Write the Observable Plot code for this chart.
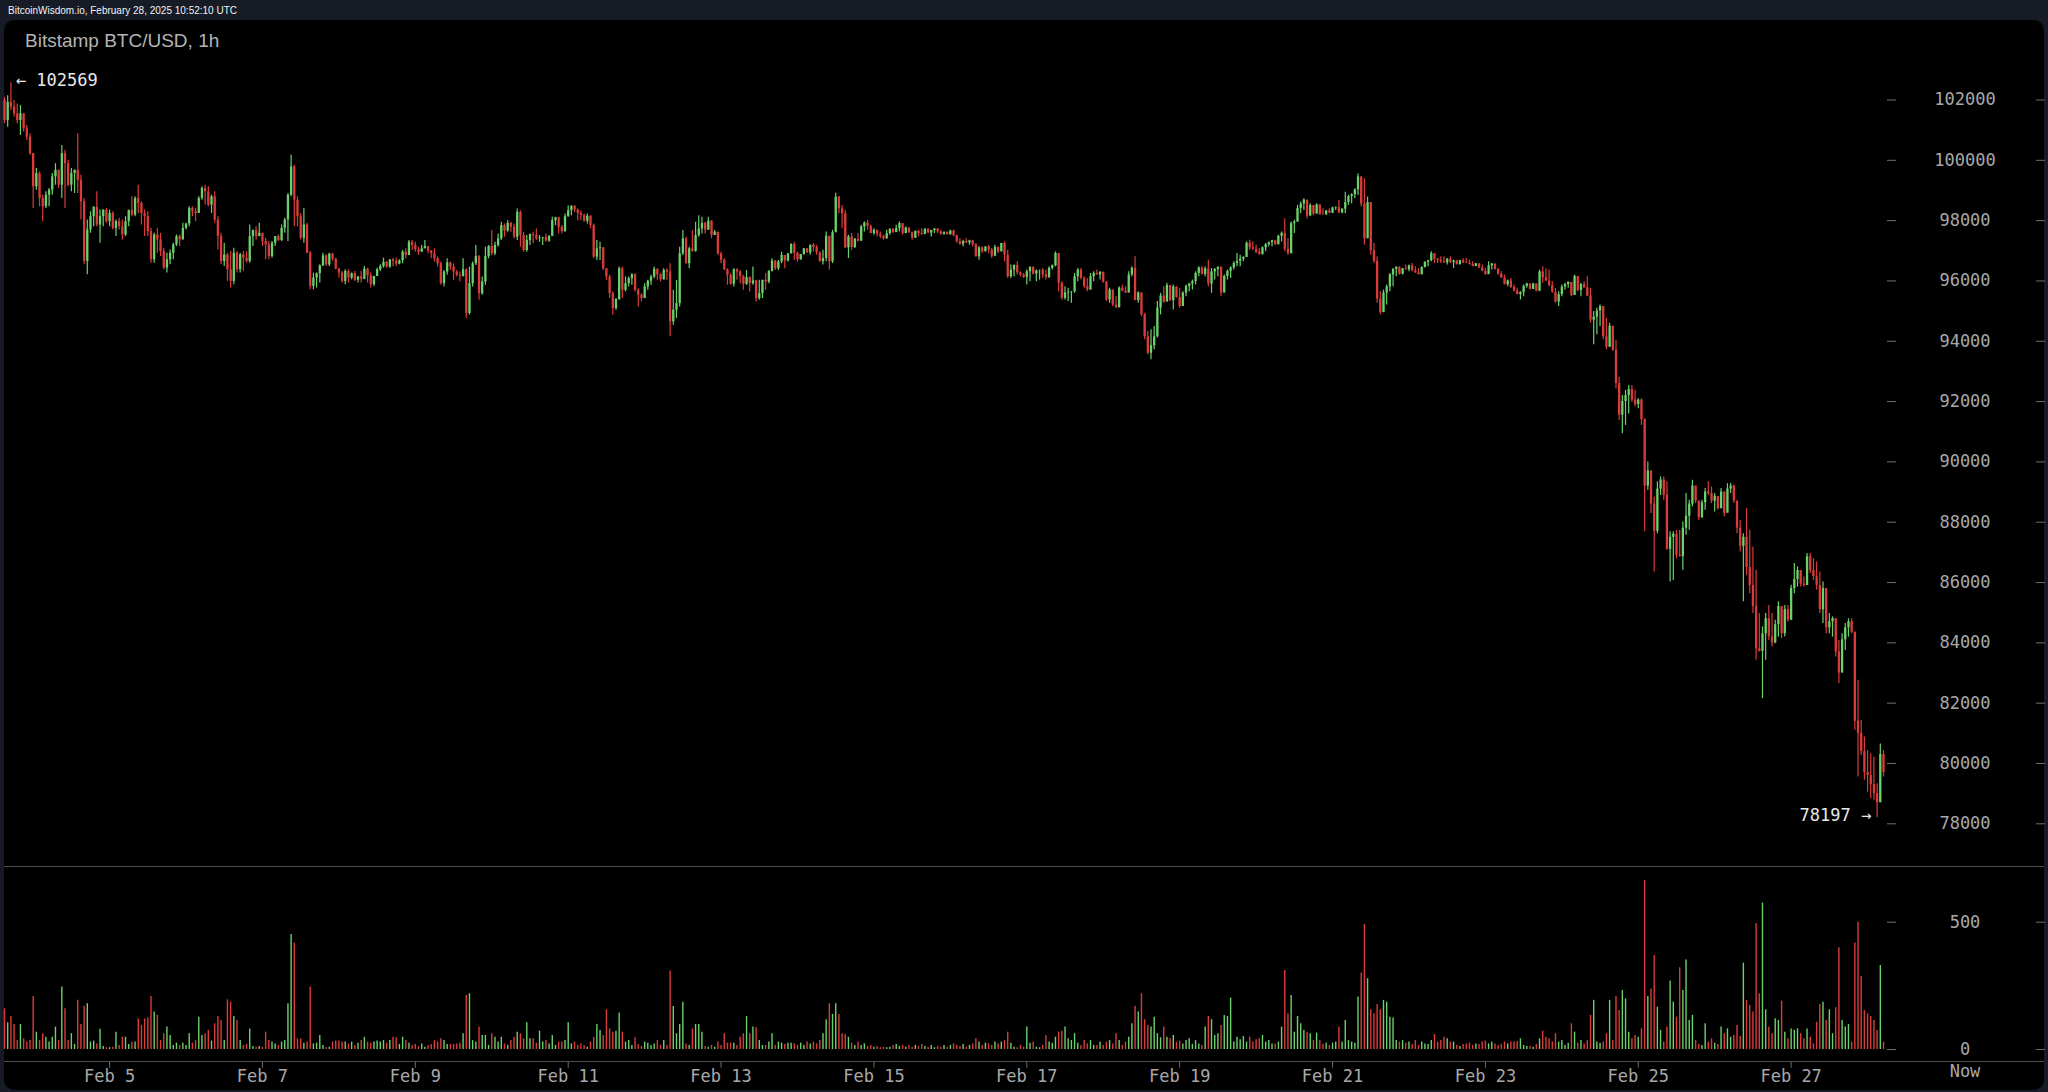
<!DOCTYPE html>
<html><head><meta charset="utf-8">
<script src="https://cdn.jsdelivr.net/npm/d3@7"></script>
<script src="https://cdn.jsdelivr.net/npm/@observablehq/plot@0.6"></script>
<style>
html,body{margin:0;padding:0;background:#161b26;width:2048px;height:1092px;overflow:hidden;}
#header{position:absolute;left:8px;top:5px;font:10px "Liberation Sans",Arial,sans-serif;line-height:12px;color:#f2f2f2;white-space:nowrap;}
#panel{position:absolute;left:4px;top:20px;width:2040px;height:1070px;background:#000;border-radius:10px;}
#title{position:absolute;left:25px;top:31px;font:19px "Liberation Sans",Arial,sans-serif;line-height:19px;color:#b4b4b4;white-space:nowrap;}
.hline{position:absolute;left:4px;width:2040px;height:1px;background:#4d4d4d;}
.chart{position:absolute;left:0;}
#dbg{position:absolute;right:10px;top:4px;font:10px sans-serif;color:red;}
</style></head>
<body>
<div id="header">BitcoinWisdom.io, February 28, 2025 10:52:10 UTC</div>
<div id="panel"></div>
<div id="title">Bitstamp BTC/USD, 1h</div>
<div class="hline" style="top:866px"></div>
<div class="hline" style="top:1061px"></div>
<div id="price" class="chart" style="top:0"></div>
<div id="vol" class="chart" style="top:866px"></div>
<div id="dbg"></div>
<script>
const startHour = "2025-02-03T15:00:00Z";
const firstOpen = 102000;

const high = [
102090,102145,102569,101980,101870,101815,101540,101155,100880,100165,
99725,99615,98845,98955,99065,99560,99890,99670,100495,100330,
100000,99725,99670,100880,99505,98735,98020,98295,98460,98955,
98350,98350,98405,98350,98295,98020,98075,98020,98130,98350,
98790,98790,99175,98625,98350,98295,97745,97580,97745,97580,
97085,96920,97030,97250,97525,97525,97910,97910,98460,98460,
98405,98790,99120,99175,99120,98845,98955,98130,97580,97250,
96920,96975,97085,96975,96920,96975,96975,97855,97690,97800,
97910,97580,97415,97305,97305,97470,97525,97855,98075,98900,
100165,99835,98790,98240,98405,97910,96975,96260,96260,96535,
96920,96865,96920,96920,96755,96425,96315,96370,96370,96260,
96315,96150,96315,96480,96425,96260,96150,96425,96535,96755,
96645,96700,96755,96755,96700,97010,97065,97340,97340,97285,
97120,97175,97340,97140,97010,97065,96790,96625,96350,96735,
96625,96570,96350,96295,96735,96405,96460,96625,97175,96845,
96130,97120,97175,97670,97285,97560,97945,97890,98000,97945,
97890,98385,98330,97615,97505,97560,97615,97725,97505,97450,
97560,97505,98110,98110,98110,97835,98220,98495,98495,98495,
98385,98330,98220,98220,98165,97890,97340,97285,97065,96405,
96185,95635,95415,96460,96460,96130,96130,96240,96240,95745,
95580,95910,96020,96185,96460,96405,96240,96405,96405,96570,
95690,96020,97120,97670,97450,97120,97670,97945,98165,98110,
97945,98110,98000,97670,97615,96955,96735,96405,96240,96405,
96405,96350,96185,96350,96130,96460,96020,96020,96020,96240,
96350,96735,96680,96680,96955,96845,96900,97230,97285,96955,
96880,97075,97075,97185,97240,97185,96965,97020,97625,97460,
97680,98912,98802,98505,98340,97515,97570,97405,97570,97845,
97955,98010,97845,97735,97680,97625,97515,97680,97735,97735,
97845,97955,97900,97790,97757,97625,97650,97680,97735,97735,
97735,97680,97735,97735,97680,97625,97625,97680,97680,97515,
97405,97350,97405,97350,97350,97240,97130,97130,97130,97185,
97075,97185,97130,97240,97295,97020,96525,96525,96635,96305,
96250,96360,96470,96470,96360,96360,96415,96360,96470,96525,
96965,96910,95975,95810,95755,95645,96250,96415,96415,96140,
96085,96250,96305,96360,96305,96250,95975,95755,95700,95480,
95810,95865,95810,96305,96470,96800,95645,95590,94930,94325,
94380,94490,95315,95590,95810,95920,95810,95865,95755,95755,
95645,95865,95920,96030,96305,96470,96470,96470,96690,96415,
96415,96470,96470,96195,96360,96470,96635,96910,96855,96800,
97295,97350,97295,97185,97075,97130,97240,97295,97350,97350,
97515,97625,98065,97405,97955,98010,98505,98615,98725,98615,
98560,98505,98560,98450,98395,98340,98395,98450,98450,98670,
98395,98945,98835,98890,99055,99550,99440,99385,98780,98505,
97240,96800,95645,95700,95865,96250,96415,96470,96470,96415,
96525,96525,96580,96470,96415,96470,96635,96690,96965,96910,
96745,96800,96800,96745,96800,96690,96690,96690,96745,96745,
96690,96635,96580,96580,96525,96415,96635,96580,96525,96415,
96305,96195,96030,96085,95865,95755,95645,95865,95920,95865,
95920,95865,96360,96470,96400,96360,95975,95755,95645,95865,
95920,95975,95920,96195,95975,95920,95975,96140,95755,94985,
95095,95205,95150,94765,94600,94500,94025,92810,92200,92370,
92530,92530,92370,92090,92090,91430,90000,89610,88840,89340,
89500,89500,89340,87680,87680,87730,87730,88010,88950,88730,
89390,89200,88700,88730,89120,89340,89170,88950,88840,89120,
89000,89280,89280,89230,88700,88060,87620,88450,87730,87180,
86410,84970,84530,84970,85240,84970,84750,85360,85200,85240,
85240,85910,86630,86520,86400,86180,86960,86960,86790,86680,
86350,86020,85800,84970,84860,84800,84080,84300,84640,84800,
84800,84360,82760,81430,80880,80430,80320,80210,79330,80650,
80430];

const low = [
101210,101100,101650,101430,101210,100825,100935,100660,100165,98405,
99010,98460,97965,98405,98460,98845,99175,99065,98735,98405,
99120,98955,98900,98900,98020,96535,96205,97580,97800,97800,
97250,97800,97910,97800,97690,97470,97690,97360,97470,97800,
98130,98130,98240,97855,97470,97470,96590,96590,96920,96810,
96370,96260,96535,96700,97140,97140,97360,97690,97800,98130,
97965,98240,98680,98515,98460,98240,97910,97030,96535,96480,
95985,95765,95875,96260,96260,96315,96590,96590,97140,97360,
97470,97140,96700,96700,96755,97140,97305,97305,97580,97305,
98790,97800,97800,97360,97250,96900,95710,95710,95765,95930,
96480,96480,96480,96645,96370,96095,95930,95875,95930,96040,
95985,95930,95930,96040,95930,95765,95820,96150,96315,96425,
96425,96425,96480,96480,96535,96570,96735,96900,97010,96955,
96845,96955,97065,96900,96735,96625,96460,95855,95800,96185,
96350,96020,96130,95965,96130,94755,94865,95800,96515,95360,
95525,95855,96735,96845,96845,97120,97340,97450,97615,97615,
97395,97340,97120,96955,96955,97175,97230,97340,97285,97175,
97285,97285,97505,97835,97560,97560,97615,98110,98165,98275,
98000,98000,97945,97890,97725,96735,96680,96680,96350,96020,
95415,94865,95030,95360,95415,95635,95800,95855,95635,95140,
95305,95415,95690,95855,96075,96020,95965,96020,96020,94150,
94535,94755,95140,96845,96560,96405,96955,96955,97450,97560,
97560,97670,97395,97505,96845,96570,96350,95855,95855,95800,
96020,95910,95690,95855,95635,95855,95305,95360,95415,95690,
95910,96295,96350,96350,96570,96405,96625,96900,96680,96625,
96690,96855,96910,96855,96965,96855,96635,96525,96635,96360,
96580,97680,98230,97735,97075,96745,97020,97075,97295,97320,
97625,97680,97570,97515,97460,97405,97350,97394,97515,97570,
97603,97625,97515,97570,97570,97350,97405,97460,97515,97537,
97570,97460,97570,97570,97515,97515,97515,97515,97460,97240,
97185,97130,97240,97185,97130,96790,96690,96910,96965,96910,
96745,96800,96910,96965,96635,96085,96085,96140,96195,96140,
96085,95865,95975,96195,95975,96030,96085,96030,96085,96360,
96470,95645,95370,95370,95315,95260,95590,95975,96030,95755,
95645,95700,95975,96195,96030,95920,95315,95260,95150,95095,
95315,95645,95590,95700,96140,95340,95260,94820,94050,93555,
93390,93720,94105,94875,95260,95535,95315,95040,95425,95095,
95260,95480,95645,95700,95865,96140,96195,96140,95810,95590,
96030,96140,95480,95700,96030,96085,96360,96470,96470,96635,
96780,97020,97020,96910,96855,96855,96965,97130,97130,97185,
97295,97295,96965,96855,97020,97570,97955,98230,98340,98065,
98230,98175,98230,98175,98175,98175,98230,98230,98340,98230,
98230,98230,98505,98560,98725,98835,98450,97185,97570,96855,
96580,95260,94875,94985,95205,95645,95810,96140,96195,96195,
96360,96305,96305,96250,96195,96195,96470,96470,96635,96580,
96580,96580,96580,96525,96580,96415,96525,96525,96580,96580,
96525,96470,96470,96415,96305,96195,96250,96360,96360,96195,
96085,95865,95810,95755,95645,95535,95370,95480,95755,95700,
95755,95645,95645,95920,95980,95810,95590,95260,95150,95480,
95700,95755,95480,95590,95645,95480,95755,95480,94600,93885,
94215,94490,94050,93720,93885,93665,92420,91370,90930,91210,
91590,91980,91820,91760,91210,87680,89060,88290,86350,87620,
88890,88730,87070,86020,86070,86790,86850,86410,87570,87730,
88510,88620,88060,88120,88400,88890,88620,88340,88400,88450,
88180,88300,88950,88620,87620,87010,85360,86240,85630,84970,
83420,83700,82150,83420,84080,83860,83970,84190,84140,84190,
84690,84750,85630,85850,85850,85850,85900,86300,86070,85740,
84970,84640,84300,84300,84190,83530,82650,83140,83750,84190,
84300,81100,79550,80270,79440,79050,78830,78780,78197,78830,
79550];

const close = [
101320,101925,101760,101540,101320,101540,101045,100770,100220,99120,
99560,98735,98460,98845,99010,99450,99670,99175,100220,99890,
99175,99560,99670,99340,98625,96645,97690,98130,98440,97855,
98130,98350,97965,98240,97745,97965,97800,97525,97965,98330,
98185,98735,98570,98240,98130,97635,96700,97525,97360,96975,
96425,96700,96920,97195,97470,97360,97745,97890,98405,98295,
98240,98735,99065,98955,98515,98790,98020,97470,96645,96865,
96370,95985,96920,96370,96865,96755,96645,97470,97670,97470,
97580,97305,97195,96810,97250,97470,97340,97745,98020,98845,
99780,98680,98130,97415,97855,96920,95820,96095,96240,96500,
96830,96535,96890,96720,96390,96260,95985,96315,96095,96240,
96020,96130,96060,96390,96170,95875,96150,96370,96480,96620,
96460,96700,96645,96560,96670,96955,96845,97285,97175,97030,
96955,97065,97140,96990,96900,96735,96570,95910,96295,96600,
96460,96295,96185,96150,96370,94920,95910,96570,96810,95580,
95965,96810,97140,96900,97175,97395,97835,97650,97910,97780,
97450,98275,97505,97010,97340,97540,97505,97395,97420,97440,
97320,97470,98000,98090,97780,97640,98130,98330,98475,98350,
98240,98165,97980,98145,97835,96790,97065,97100,96405,96130,
95580,95085,95380,96405,95690,95910,96075,96207,95690,95525,
95415,95800,95990,96130,96385,96207,96040,96350,96295,94645,
95030,95250,96900,97395,96570,97065,96980,97505,97725,97910,
97690,97980,97505,97615,96900,96680,96370,96185,95890,96370,
96295,96150,95890,96110,95910,96000,95415,95580,96020,95965,
96315,96660,96405,96625,96845,96660,96900,97210,96920,96700,
96877,97064,96932,97185,97108,96932,96635,96745,97482,96635,
97600,98780,98395,98230,97100,97460,97108,97383,97317,97790,
97922,97812,97570,97680,97548,97482,97394,97570,97713,97603,
97735,97900,97570,97757,97603,97416,97647,97570,97537,97713,
97592,97669,97724,97625,97548,97614,97537,97658,97504,97306,
97218,97306,97262,97328,97196,96800,97097,96965,97130,97020,
96822,97108,96965,97240,96855,96140,96360,96514,96272,96195,
96118,96305,96448,96228,96338,96349,96195,96118,96415,96503,
96910,95920,95425,95600,95620,95640,96140,96360,96085,95810,
95700,96140,96250,96200,96290,95960,95370,95700,95200,95110,
95760,95660,95600,96200,96420,95350,95600,94880,94150,93600,
93850,94150,95100,95500,95300,95850,95350,95800,95450,95150,
95600,95820,95900,95980,96250,96430,96220,96400,95900,96300,
96380,96450,95600,96150,96320,96430,96580,96650,96720,96780,
97250,97100,97050,96950,96880,97100,97200,97270,97330,97200,
97480,97580,97050,96900,97900,97950,98400,98550,98680,98150,
98500,98220,98520,98200,98190,98320,98250,98420,98440,98260,
98380,98600,98800,98860,99020,99450,98550,97400,98600,97000,
96650,95400,94950,95600,95800,96200,96380,96450,96220,96400,
96370,96500,96330,96270,96210,96440,96620,96670,96900,96720,
96680,96640,96600,96720,96610,96660,96540,96670,96600,96590,
96550,96480,96570,96430,96320,96210,96500,96560,96380,96220,
96100,95880,96000,95780,95660,95550,95620,95820,95900,95720,
95900,95660,96300,96100,96000,95850,95620,95300,95550,95800,
95880,95950,95520,96150,95680,95880,95770,95500,94700,94800,
95000,95150,94150,93800,94500,93700,92600,91550,92000,92200,
92400,92050,91900,92050,91400,89200,89700,88600,87700,89100,
89400,88900,87100,87500,87600,86900,86860,87800,88200,88600,
89200,88700,88150,88650,89000,88950,88700,88850,88450,89000,
88300,89100,89200,88700,87800,87200,87500,86500,85900,85200,
83800,83720,84300,84800,84200,84000,84600,85200,84300,85100,
84750,85800,86100,86400,85950,85900,86850,86400,86200,85900,
85100,85800,84500,84700,84800,83700,83000,84100,84500,84700,
84350,81400,81000,80400,79700,79600,79300,79000,78700,80300,
79700];

const volume = [
160,105,130,98,35,98,42,29,35,208,
68,35,62,48,29,48,88,35,245,160,
35,62,20,193,98,170,180,29,33,22,
80,12,7,7,9,68,16,48,48,20,
29,29,120,94,120,124,208,147,134,35,
62,88,55,16,25,16,25,16,62,25,
35,127,55,62,75,33,101,130,114,35,
195,186,130,114,35,16,20,81,12,9,
12,9,68,35,29,22,16,29,35,180,
452,418,42,42,25,29,245,22,25,55,
16,7,9,29,33,33,29,29,22,29,
16,25,35,48,29,25,29,33,29,35,
25,35,48,46,20,48,35,25,16,20,
12,22,9,16,20,35,29,42,35,20,
20,20,22,25,62,212,219,35,29,88,
55,55,16,62,48,29,48,22,16,35,
48,68,62,42,105,42,42,25,72,29,
35,22,55,16,29,29,35,105,22,29,
16,22,16,9,29,48,98,75,55,156,
81,68,72,143,68,29,35,16,46,20,
12,29,25,16,22,35,16,35,16,308,
169,62,98,186,22,16,81,98,98,68,
12,9,16,9,29,16,62,25,25,25,
16,48,62,130,62,88,85,35,16,16,
29,62,16,29,25,20,25,25,22,16,
25,16,29,22,29,22,35,62,117,180,
138,180,138,62,59,48,25,16,29,16,
22,12,16,9,12,7,9,7,9,16,
20,12,16,9,16,9,16,12,20,12,
9,16,7,12,9,16,9,16,22,16,
12,20,9,16,22,42,29,16,25,22,
16,29,22,29,35,68,25,9,7,16,
9,88,25,29,9,7,16,55,29,25,
48,68,72,88,42,35,62,25,16,35,
22,35,16,16,29,16,29,35,22,62,
35,16,29,48,101,170,147,219,117,94,
88,127,62,46,88,48,42,55,29,33,
22,35,42,20,35,22,16,88,130,117,
55,62,94,134,130,202,29,48,38,51,
29,48,29,38,42,55,29,35,22,22,
29,88,310,140,212,68,130,101,75,68,
62,35,64,35,20,25,16,25,29,88,
29,114,35,29,25,206,300,491,278,156,
140,177,156,193,186,127,124,35,29,35,
25,29,20,35,16,29,22,20,35,59,
29,35,48,42,29,29,16,12,20,22,
25,16,22,20,29,33,22,29,22,16,
20,29,22,29,29,31,42,16,12,12,
9,20,42,72,48,42,29,62,29,35,
16,25,101,68,25,35,22,35,134,193,
29,25,29,62,193,35,208,153,232,199,
68,42,55,48,81,664,208,238,369,166,
75,29,88,269,186,127,321,232,352,114,
134,35,20,16,101,29,42,25,20,88,
62,81,48,55,94,51,339,193,173,147,
494,219,575,156,88,62,121,114,190,68,
42,81,75,81,62,42,81,48,22,107,
177,186,114,156,62,164,400,114,88,98,
29,418,500,287,153,140,130,114,75,330,
29];

const priceTicks = [78000,80000,82000,84000,86000,88000,90000,92000,94000,96000,98000,100000,102000];
const volumeTicks = [0, 500];
const dayTicks = ["2025-02-05","2025-02-07","2025-02-09","2025-02-11","2025-02-13","2025-02-15","2025-02-17","2025-02-19","2025-02-21","2025-02-23","2025-02-25","2025-02-27"];
const nowLabel = ["Now"];

const GREEN = "#6bd16b", RED = "#dc3b3b";
const MONO = "'DejaVu Sans Mono', monospace";
const AXIS_TEXT = "#a8a8a8", AXIS_TICK = "#6e6e6e";

const lens = [high.length, low.length, close.length, volume.length];
if (new Set(lens).size !== 1) document.getElementById("dbg").textContent = "len " + lens.join(",");
const n = Math.min(...lens);
const t0 = new Date(startHour).getTime();
const bars = d3.range(n).map(i => {
  const o = i === 0 ? firstOpen : close[i - 1];
  const c = close[i];
  return {t: new Date(t0 + i * 3600e3), o, c, h: high[i], l: low[i], v: volume[i],
    top: Math.max(high[i], o, c), bot: Math.min(low[i], o, c), col: c >= o ? GREEN : RED};
});
const hiBar = d3.greatest(bars, d => d.h);
const loBar = d3.least(bars, d => d.l);

const xScale = {type: "utc", domain: [bars[0].t, bars[n - 1].t], range: [4, 1883]};
const baseStyle = {background: "transparent", fontFamily: MONO, fontSize: "17px", color: AXIS_TEXT, overflow: "visible"};

const dashes = (ticks) => [
  Plot.axisY({ticks, anchor: "right", tickSize: 9, tickFormat: () => "", stroke: AXIS_TICK, label: null}),
  Plot.axisY({ticks, anchor: "right", tickSize: 9, tickFormat: () => "", stroke: AXIS_TICK, label: null, dx: 149})
];

const price = Plot.plot({
  width: 2048, height: 866,
  marginLeft: 0, marginRight: 162, marginTop: 0, marginBottom: 0,
  style: baseStyle,
  x: {...xScale, axis: null},
  y: {domain: [78000, 102000], range: [823.3, 99.5]},
  marks: [
    Plot.ruleX(bars, {x: "t", y1: "bot", y2: "top", stroke: "col", strokeWidth: 1.2}),
    Plot.ruleX(bars, {x: "t", y1: "o", y2: "c", stroke: "col", strokeWidth: 2.3}),
    ...dashes(priceTicks),
    Plot.text(priceTicks, {y: d => d, text: d => String(d), frameAnchor: "right", dx: 78.5, textAnchor: "middle", fill: AXIS_TEXT, fontSize: 17}),
    Plot.text([hiBar], {x: "t", y: "h", text: d => "\u2190 " + d.h, dx: 5, dy: -2, textAnchor: "start", fill: "#e8e8e8", fontSize: 17}),
    Plot.text([loBar], {x: "t", y: "l", text: d => d.l + " \u2192", dx: -6, dy: -2, textAnchor: "end", fill: "#e8e8e8", fontSize: 17})
  ]
});
document.getElementById("price").append(price);

const vol = Plot.plot({
  width: 2048, height: 226,
  marginLeft: 0, marginRight: 162, marginTop: 0, marginBottom: 30.3,
  style: baseStyle,
  x: {...xScale},
  y: {domain: [0, 500], range: [183, 55.7]},
  marks: [
    Plot.ruleX(bars, {x: "t", y1: 0, y2: "v", stroke: "col", strokeWidth: 1.4}),
    ...dashes(volumeTicks),
    Plot.text(volumeTicks, {y: d => d, text: d => String(d), frameAnchor: "right", dx: 78.5, textAnchor: "middle", fill: AXIS_TEXT, fontSize: 17}),
    Plot.axisX({ticks: dayTicks.map(d => new Date(d + "T00:00:00Z")), anchor: "bottom", tickSize: 6, tickPadding: 2,
      tickFormat: d3.utcFormat("%b %-d"), stroke: AXIS_TICK, fill: AXIS_TEXT, fontSize: 17, label: null}),
    Plot.text(nowLabel, {frameAnchor: "bottom-right", dx: 78.5, dy: 14.3, text: d => d, textAnchor: "middle", fill: AXIS_TEXT, fontSize: 17})
  ]
});
document.getElementById("vol").append(vol);
</script>
</body></html>
